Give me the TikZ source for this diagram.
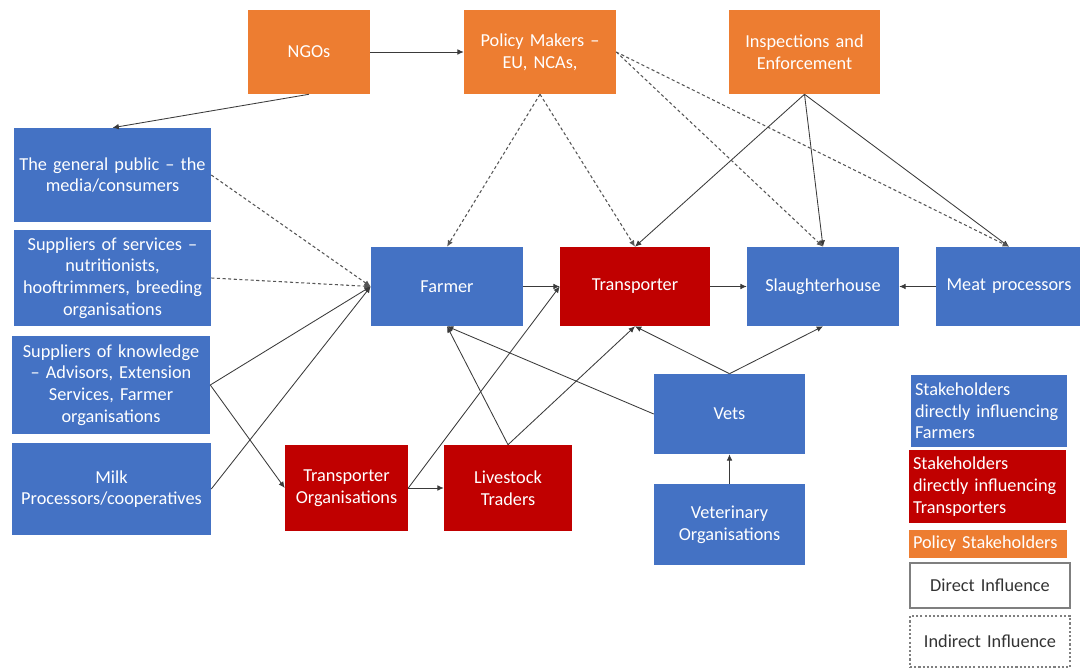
\documentclass[tikz,border=0pt]{standalone}
\usepackage{fontspec}
\setmainfont{Carlito}
\usetikzlibrary{arrows.meta}
\definecolor{cblue}{HTML}{4472C4}
\definecolor{cred}{HTML}{C00000}
\definecolor{corange}{HTML}{ED7D31}
\definecolor{cline}{HTML}{3A3A3A}
\definecolor{cdash}{HTML}{555555}
\definecolor{cframe}{HTML}{7F7F7F}
% \bx{name}{x1}{y1}{x2}{y2}{style}{text}
\newcommand\bx[7]{\node[#6, minimum width={(#4-#2)*0.025cm}, minimum height={(#5-#3)*0.025cm}, text width={(#4-#2-8)*0.025cm}] (#1) at ({(#2+#4)/2},{(#3+#5)/2}) {#7};}
\tikzset{
  sbox/.style={rectangle, inner xsep=0.05cm, inner ysep=0pt, align=center, text=white, font=\fontsize{13}{15.4}\selectfont},
  fb/.style={sbox, fill=cblue},
  fr/.style={sbox, fill=cred},
  fo/.style={sbox, fill=corange},
  leg/.style={sbox, align=left},
  arr/.style={-{Latex[length=4.5pt,width=4pt]}, draw=cline, line width=0.6pt},
  darr/.style={arr, draw=cdash, dash pattern=on 2.2pt off 1.8pt, line width=0.75pt},
}
\begin{document}
\begin{tikzpicture}[x=0.025cm, y=-0.025cm]
\fill[white] (0,0) rectangle (1080,669);
\useasboundingbox (0,0) rectangle (1080,669);
% top policy boxes
\bx{ngo}{248}{10}{370}{94}{fo}{NGOs}
\bx{policy}{464}{10}{616}{94}{fo}{Policy Makers –\\EU, NCAs,}
\bx{insp}{729}{10}{880}{94}{fo}{Inspections and\\Enforcement}
% left column
\bx{gp}{14}{128}{211}{222}{fb}{The general public – the\\media/consumers}
\bx{serv}{14}{230}{211}{326}{fb}{Suppliers of services –\\nutritionists,\\hooftrimmers, breeding\\organisations}
\bx{know}{12}{336}{210}{434}{fb}{Suppliers of knowledge\\– Advisors, Extension\\Services, Farmer\\organisations}
\bx{milk}{12}{443}{211}{535}{fb}{Milk\\Processors/cooperatives}
% middle row
\bx{farmer}{371}{247}{523}{326}{fb}{Farmer}
\bx{trans}{560}{247}{710}{326}{fr}{Transporter}
\bx{slaughter}{747}{247}{899}{326}{fb}{Slaughterhouse}
\bx{meat}{936}{247}{1082}{326}{fb}{Meat processors}
% lower
\bx{torg}{285}{445}{408}{531}{fr}{Transporter\\Organisations}
\bx{lt}{444}{445}{572}{531}{fr}{Livestock\\Traders}
\bx{vets}{654}{374}{805}{454}{fb}{Vets}
\bx{vorg}{654}{484}{805}{565}{fb}{Veterinary\\Organisations}
% legend
\bx{l1}{911}{375}{1067}{447}{leg, fill=cblue}{Stakeholders\\directly influencing\\Farmers}
\bx{l2}{909}{450}{1066}{523}{leg, fill=cred}{Stakeholders\\directly influencing\\Transporters}
\bx{l3}{909}{530}{1067}{558}{leg, fill=corange}{Policy Stakeholders}
\bx{l4}{910}{563}{1070}{608}{sbox, fill=white, text=black!80, draw=cframe, line width=0.9pt}{Direct Influence}
\bx{l5}{910}{616}{1070}{667}{sbox, fill=white, text=black!80, draw=cframe, line width=0.9pt, dash pattern=on 1.5pt off 1.5pt}{Indirect Influence}
% solid connectors
\draw[arr] (ngo) -- (policy);
\draw[arr] (ngo.south) -- (gp.north);
\draw[arr] (insp.south) -- (trans.north);
\draw[arr] (insp.south) -- (slaughter.north);
\draw[arr] (insp.south) -- (meat.north);
\draw[arr] (know.east) -- (farmer.west);
\draw[arr] (milk.east) -- (farmer.west);
\draw[arr] (know.east) -- (torg.west);
\draw[arr] (farmer) -- (trans);
\draw[arr] (trans) -- (slaughter);
\draw[arr] (meat) -- (slaughter);
\draw[arr] (torg) -- (lt);
\draw[arr] (torg.east) -- (trans.west);
\draw[arr] (lt.north) -- (trans.south);
\draw[arr] (lt.north) -- (farmer.south);
\draw[arr] (vets.west) -- (farmer.south);
\draw[arr] (vets.north) -- (trans.south);
\draw[arr] (vets.north) -- (slaughter.south);
\draw[arr] (vorg) -- (vets);
% dashed connectors
\draw[darr] (policy.south) -- (farmer.north);
\draw[darr] (policy.south) -- (trans.north);
\draw[darr] (policy.east) -- (slaughter.north);
\draw[darr] (policy.east) -- (meat.north);
\draw[darr] (gp.east) -- (farmer.west);
\draw[darr] (serv.east) -- (farmer.west);
\end{tikzpicture}
\end{document}
